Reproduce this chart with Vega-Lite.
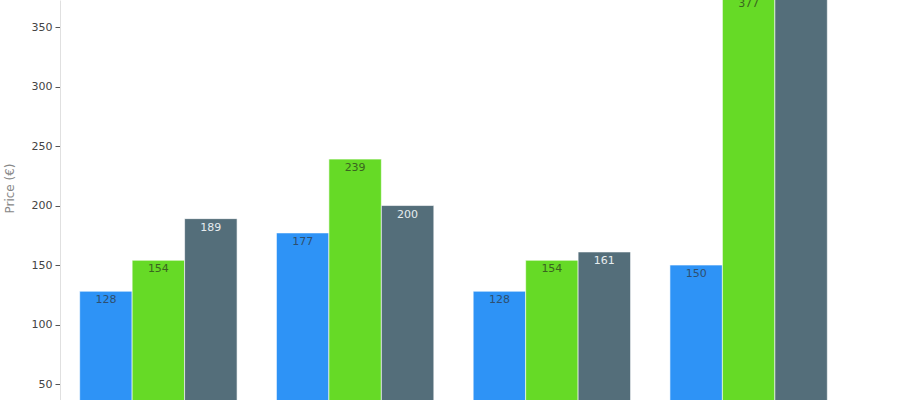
{
  "$schema": "https://vega.github.io/schema/vega-lite/v6.json",
  "width": 787,
  "height": 400,
  "autosize": {"type": "none"},
  "padding": {"left": 60, "top": 0, "right": 53, "bottom": 0},
  "data": {
    "values": [
      {"group": "A", "series": "s1", "price": 128},
      {"group": "A", "series": "s2", "price": 154},
      {"group": "A", "series": "s3", "price": 189},
      {"group": "B", "series": "s1", "price": 177},
      {"group": "B", "series": "s2", "price": 239},
      {"group": "B", "series": "s3", "price": 200},
      {"group": "C", "series": "s1", "price": 128},
      {"group": "C", "series": "s2", "price": 154},
      {"group": "C", "series": "s3", "price": 161},
      {"group": "D", "series": "s1", "price": 150},
      {"group": "D", "series": "s2", "price": 377},
      {"group": "D", "series": "s3", "price": 420}
    ]
  },
  "encoding": {
    "x": {
      "field": "group",
      "type": "nominal",
      "axis": null,
      "scale": {"paddingInner": 0.2, "paddingOuter": 0.1}
    },
    "xOffset": {"field": "series", "type": "nominal"},
    "y": {
      "field": "price",
      "type": "quantitative",
      "title": "Price (€)",
      "scale": {"domain": [36.6, 372.7], "nice": false, "zero": false},
      "axis": {
        "values": [50, 100, 150, 200, 250, 300, 350],
        "grid": false,
        "domainColor": "#e0e0e0",
        "tickColor": "#555",
        "tickSize": 5,
        "labelColor": "#444",
        "labelFontSize": 11,
        "labelFont": "DejaVu Sans",
        "labelPadding": 3,
        "titleColor": "#888",
        "titleFont": "DejaVu Sans",
        "titleFontSize": 12,
        "titleFontWeight": "normal",
        "titleY": 188,
        "titleX": -44
      }
    }
  },
  "layer": [
    {
      "mark": {"type": "bar", "clip": true, "stroke": "#ffffff", "strokeWidth": 1, "strokeOpacity": 0.6},
      "encoding": {
        "color": {
          "field": "series",
          "type": "nominal",
          "legend": null,
          "scale": {"domain": ["s1", "s2", "s3"], "range": ["#2E93F6", "#66DA26", "#546E7A"]}
        }
      }
    },
    {
      "mark": {"type": "text", "clip": true, "baseline": "top", "dy": 3, "font": "DejaVu Sans", "fontSize": 11},
      "encoding": {
        "text": {"field": "price", "type": "quantitative"},
        "color": {
          "field": "series",
          "type": "nominal",
          "legend": null,
          "scale": {"domain": ["s1", "s2", "s3"], "range": ["#2f4f6f", "#3a6420", "#e6ecef"]}
        }
      }
    }
  ],
  "resolve": {"scale": {"color": "independent"}},
  "config": {"view": {"stroke": null}}
}
